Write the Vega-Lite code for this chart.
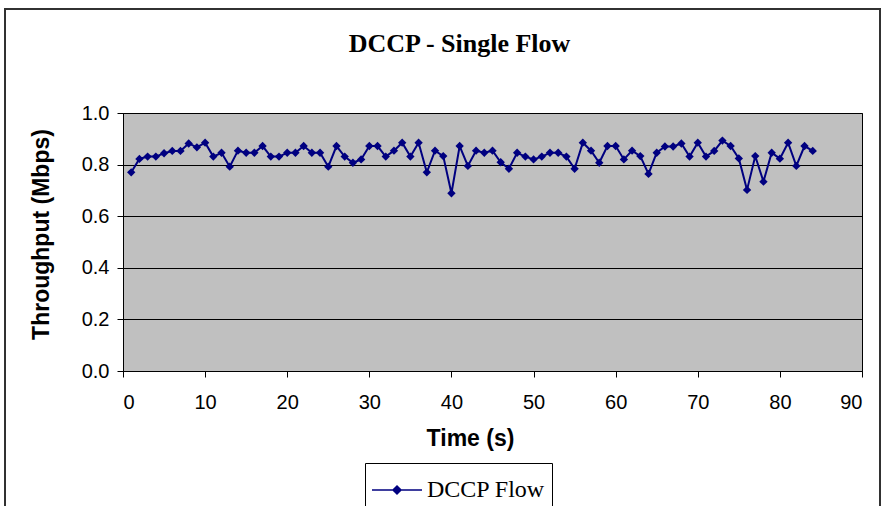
{
  "$schema": "https://vega.github.io/schema/vega-lite/v6.json",
  "width": 739,
  "height": 258,
  "autosize": {"type": "none"},
  "padding": {"left": 123, "top": 113, "right": 22, "bottom": 135},
  "background": "white",
  "title": {
    "text": "DCCP - Single Flow",
    "font": "Liberation Serif",
    "fontSize": 26,
    "fontWeight": "bold",
    "color": "black",
    "anchor": "middle",
    "dx": -33,
    "offset": -48
  },
  "config": {
    "view": {"fill": "#C0C0C0", "stroke": "black", "strokeWidth": 1},
    "axis": {
      "labelFont": "Liberation Sans",
      "labelFontSize": 20,
      "labelColor": "black",
      "titleFont": "Liberation Sans",
      "titleFontSize": 23,
      "titleFontWeight": "bold",
      "titleColor": "black",
      "domainColor": "black",
      "tickColor": "black",
      "tickSize": 6
    }
  },
  "data": {
    "values": [
      {"time": 1, "throughput": 0.770}, {"time": 2, "throughput": 0.822}, {"time": 3, "throughput": 0.831},
      {"time": 4, "throughput": 0.831}, {"time": 5, "throughput": 0.844}, {"time": 6, "throughput": 0.853},
      {"time": 7, "throughput": 0.853}, {"time": 8, "throughput": 0.882}, {"time": 9, "throughput": 0.867},
      {"time": 10, "throughput": 0.885}, {"time": 11, "throughput": 0.831}, {"time": 12, "throughput": 0.846},
      {"time": 13, "throughput": 0.792}, {"time": 14, "throughput": 0.854}, {"time": 15, "throughput": 0.846},
      {"time": 16, "throughput": 0.846}, {"time": 17, "throughput": 0.872}, {"time": 18, "throughput": 0.831},
      {"time": 19, "throughput": 0.831}, {"time": 20, "throughput": 0.846}, {"time": 21, "throughput": 0.846},
      {"time": 22, "throughput": 0.872}, {"time": 23, "throughput": 0.846}, {"time": 24, "throughput": 0.846},
      {"time": 25, "throughput": 0.792}, {"time": 26, "throughput": 0.872}, {"time": 27, "throughput": 0.831},
      {"time": 28, "throughput": 0.807}, {"time": 29, "throughput": 0.820}, {"time": 30, "throughput": 0.872},
      {"time": 31, "throughput": 0.872}, {"time": 32, "throughput": 0.831}, {"time": 33, "throughput": 0.854},
      {"time": 34, "throughput": 0.885}, {"time": 35, "throughput": 0.831}, {"time": 36, "throughput": 0.885},
      {"time": 37, "throughput": 0.770}, {"time": 38, "throughput": 0.854}, {"time": 39, "throughput": 0.833},
      {"time": 40, "throughput": 0.689}, {"time": 41, "throughput": 0.872}, {"time": 42, "throughput": 0.795},
      {"time": 43, "throughput": 0.854}, {"time": 44, "throughput": 0.846}, {"time": 45, "throughput": 0.854},
      {"time": 46, "throughput": 0.809}, {"time": 47, "throughput": 0.784}, {"time": 48, "throughput": 0.846},
      {"time": 49, "throughput": 0.831}, {"time": 50, "throughput": 0.820}, {"time": 51, "throughput": 0.831},
      {"time": 52, "throughput": 0.846}, {"time": 53, "throughput": 0.846}, {"time": 54, "throughput": 0.831},
      {"time": 55, "throughput": 0.784}, {"time": 56, "throughput": 0.885}, {"time": 57, "throughput": 0.854},
      {"time": 58, "throughput": 0.807}, {"time": 59, "throughput": 0.872}, {"time": 60, "throughput": 0.872},
      {"time": 61, "throughput": 0.820}, {"time": 62, "throughput": 0.854}, {"time": 63, "throughput": 0.833},
      {"time": 64, "throughput": 0.764}, {"time": 65, "throughput": 0.846}, {"time": 66, "throughput": 0.870},
      {"time": 67, "throughput": 0.870}, {"time": 68, "throughput": 0.882}, {"time": 69, "throughput": 0.831},
      {"time": 70, "throughput": 0.885}, {"time": 71, "throughput": 0.831}, {"time": 72, "throughput": 0.853},
      {"time": 73, "throughput": 0.893}, {"time": 74, "throughput": 0.872}, {"time": 75, "throughput": 0.824},
      {"time": 76, "throughput": 0.702}, {"time": 77, "throughput": 0.833}, {"time": 78, "throughput": 0.734},
      {"time": 79, "throughput": 0.846}, {"time": 80, "throughput": 0.823}, {"time": 81, "throughput": 0.885},
      {"time": 82, "throughput": 0.795}, {"time": 83, "throughput": 0.872}, {"time": 84, "throughput": 0.853}
    ]
  },
  "layer": [
    {
      "mark": {"type": "rect", "clip": false, "fill": null, "fillOpacity": 0, "stroke": "#333333", "strokeWidth": 1},
      "encoding": {
        "x": {"datum": -14.4, "type": "quantitative", "scale": {"domain": [0, 90], "nice": false, "zero": false}},
        "x2": {"datum": 92.2},
        "y": {"datum": 1.403, "type": "quantitative", "scale": {"domain": [0, 1], "nice": false}},
        "y2": {"datum": -0.6}
      }
    },
    {
      "mark": {"type": "line", "color": "#000080", "strokeWidth": 2,
               "point": {"shape": "diamond", "size": 70, "filled": true, "color": "#000080"}},
      "encoding": {
        "x": {
          "field": "time", "type": "quantitative",
          "scale": {"domain": [0, 90], "nice": false, "zero": false},
          "axis": {"title": "Time (s)", "values": [0,10,20,30,40,50,60,70,80,90], "grid": false,
                   "labelPadding": 15, "titlePadding": 15, "titleX": 347}
        },
        "y": {
          "field": "throughput", "type": "quantitative",
          "scale": {"domain": [0, 1], "nice": false},
          "axis": {"title": "Throughput (Mbps)", "values": [0,0.2,0.4,0.6,0.8,1.0], "format": ".1f",
                   "grid": true, "gridColor": "black", "gridOpacity": 1, "gridWidth": 1,
                   "labelPadding": 8, "titlePadding": 28, "titleY": 121}
        },
        "color": {
          "datum": "DCCP Flow", "type": "nominal",
          "scale": {"range": ["#000080"]},
          "legend": {
            "title": null, "orient": "none", "legendX": 242, "legendY": 350,
            "direction": "vertical",
            "strokeColor": "black", "padding": 6, "fillColor": "white",
            "symbolType": "M-1.25,0L1.25,0M0,-0.2L0.2,0L0,0.2L-0.2,0Z",
            "symbolSize": 1600, "symbolOffset": 5, "symbolStrokeWidth": 1.5, "symbolFillColor": "#000080", "symbolStrokeColor": "#000080",
            "labelFont": "Liberation Serif", "labelFontSize": 24, "labelColor": "black", "labelOffset": 9
          }
        }
      }
    }
  ]
}
